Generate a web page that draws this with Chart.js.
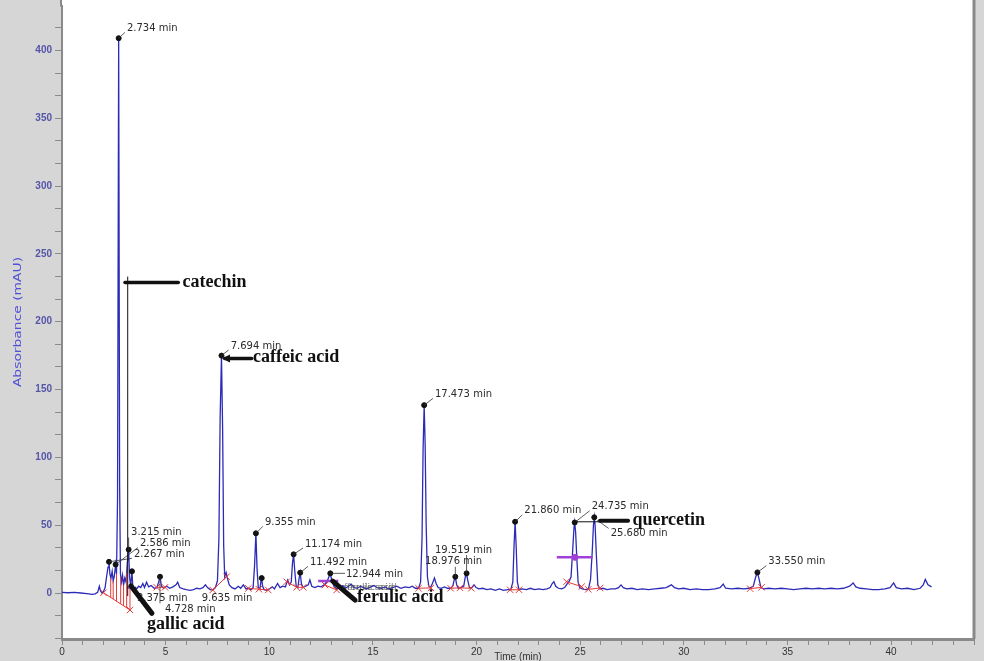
<!DOCTYPE html>
<html>
<head>
<meta charset="utf-8">
<script src="https://cdn.jsdelivr.net/npm/chart.js@4.4.0/dist/chart.umd.min.js"></script>
<style>
  html, body { margin: 0; padding: 0; background: #d6d6d6; overflow: hidden; }
  #wrap { width: 984px; height: 661px; position: relative; }
</style>
</head>
<body>
<div id="wrap"><canvas id="chrom"></canvas></div>
<script>
// chromatogram trace: [time (min), absorbance (mAU)]
const trace = [
  [0.00, 0.5], [0.30, 0.2], [0.60, 0.4], [0.90, 0.0], [1.20, -0.4], [1.45, -1.0], [1.60, -0.6],
  [1.72, 0.5], [1.80, 5.0], [1.86, 1.5], [1.93, 0.0], [2.00, 1.0], [2.08, 4.0], [2.15, 12.0],
  [2.22, 19.0], [2.267, 23.0], [2.31, 14.0], [2.36, 11.0], [2.42, 16.0], [2.47, 9.0], [2.52, 12.0],
  [2.586, 21.0], [2.63, 14.0], [2.68, 70.0], [2.734, 409.0], [2.78, 80.0], [2.82, 14.0], [2.87, 8.0],
  [2.92, 13.0], [2.97, 6.0], [3.03, 11.0], [3.09, 8.0], [3.15, 22.0], [3.215, 32.0], [3.26, 12.0],
  [3.31, 5.0], [3.375, 16.0], [3.42, 3.0], [3.48, 1.0], [3.55, 4.0], [3.60, 3.0], [3.70, 5.0],
  [3.80, 4.0], [3.90, 7.0], [3.98, 4.0], [4.08, 8.0], [4.18, 4.5], [4.30, 5.5], [4.45, 3.5],
  [4.58, 4.0], [4.66, 8.0], [4.728, 12.0], [4.80, 5.0], [4.90, 3.5], [5.05, 5.0], [5.20, 3.5],
  [5.35, 4.5], [5.50, 6.0], [5.58, 8.0], [5.68, 4.0], [5.85, 3.0], [6.00, 2.5], [6.17, 2.0],
  [6.35, 2.5], [6.50, 3.5], [6.65, 3.0], [6.80, 4.0], [6.92, 6.0], [7.02, 4.0], [7.15, 2.5],
  [7.27, 2.2], [7.40, 4.0], [7.50, 9.0], [7.57, 40.0], [7.63, 130.0], [7.694, 175.0], [7.75, 120.0],
  [7.80, 35.0], [7.85, 12.0], [7.92, 15.0], [7.98, 11.0], [8.07, 6.0], [8.20, 4.0], [8.35, 3.0],
  [8.50, 5.0], [8.62, 3.5], [8.75, 6.0], [8.88, 3.0], [9.00, 3.5], [9.12, 2.5], [9.22, 4.0],
  [9.29, 20.0], [9.355, 44.0], [9.41, 18.0], [9.47, 4.0], [9.55, 3.0], [9.60, 9.0], [9.635, 11.0],
  [9.68, 5.0], [9.75, 2.5], [9.88, 2.0], [10.00, 3.0], [10.15, 4.5], [10.25, 3.0], [10.40, 7.0],
  [10.52, 4.0], [10.65, 5.0], [10.78, 4.5], [10.88, 9.5], [10.98, 6.0], [11.06, 8.0], [11.12, 22.0],
  [11.174, 28.5], [11.23, 16.0], [11.30, 5.0], [11.38, 4.0], [11.44, 11.0], [11.492, 15.0],
  [11.55, 7.0], [11.62, 4.0], [11.75, 5.0], [11.88, 6.0], [11.96, 9.6], [12.05, 5.0], [12.20, 4.0],
  [12.35, 5.0], [12.50, 4.5], [12.65, 6.0], [12.80, 9.0], [12.88, 12.0], [12.944, 14.5],
  [13.02, 9.0], [13.12, 5.0], [13.25, 3.0], [13.40, 4.0], [13.55, 5.5], [13.68, 3.5], [13.82, 5.0],
  [13.95, 6.5], [14.10, 4.0], [14.25, 3.5], [14.40, 5.0], [14.55, 4.0], [14.70, 3.0], [14.90, 4.5],
  [15.05, 5.5], [15.20, 4.0], [15.40, 3.5], [15.60, 4.5], [15.75, 3.0], [15.95, 4.0], [16.15, 5.0],
  [16.35, 3.5], [16.55, 4.5], [16.75, 4.0], [16.90, 5.0], [17.05, 3.5], [17.20, 3.5], [17.30, 8.0],
  [17.37, 40.0], [17.42, 105.0], [17.473, 138.5], [17.52, 110.0], [17.57, 50.0], [17.63, 12.0],
  [17.70, 5.0], [17.78, 4.0], [17.87, 7.0], [17.97, 11.0], [18.05, 7.0], [18.15, 4.0], [18.30, 3.5],
  [18.45, 4.5], [18.60, 3.5], [18.75, 3.5], [18.85, 5.0], [18.93, 10.0], [18.976, 12.0],
  [19.04, 6.0], [19.12, 3.5], [19.25, 4.0], [19.38, 5.0], [19.46, 12.0], [19.519, 14.5],
  [19.58, 9.0], [19.66, 4.0], [19.75, 3.5], [19.88, 6.0], [19.98, 4.0], [20.10, 3.0], [20.30, 3.5],
  [20.50, 2.5], [20.70, 3.0], [20.90, 2.0], [21.10, 3.0], [21.30, 2.0], [21.50, 2.5], [21.65, 2.5],
  [21.75, 8.0], [21.81, 35.0], [21.86, 52.5], [21.91, 35.0], [21.97, 8.0], [22.05, 2.5],
  [22.20, 3.0], [22.40, 2.5], [22.60, 3.5], [22.80, 2.5], [23.00, 3.0], [23.20, 2.5], [23.40, 3.0],
  [23.55, 4.0], [23.65, 7.0], [23.73, 8.3], [23.82, 5.0], [23.95, 3.5], [24.10, 3.0], [24.25, 4.0],
  [24.38, 7.0], [24.48, 9.0], [24.56, 12.0], [24.64, 32.0], [24.70, 48.0], [24.735, 52.0],
  [24.78, 45.0], [24.84, 25.0], [24.90, 8.0], [24.98, 4.0], [25.10, 3.0], [25.25, 2.5], [25.40, 3.0],
  [25.50, 10.0], [25.58, 30.0], [25.64, 50.0], [25.68, 55.8], [25.72, 50.0], [25.78, 28.0],
  [25.85, 6.0], [25.95, 3.0], [26.10, 3.5], [26.30, 2.5], [26.50, 3.0], [26.70, 3.0], [26.85, 4.0],
  [26.97, 6.0], [27.08, 4.0], [27.25, 3.0], [27.50, 3.5], [27.75, 2.5], [28.00, 3.0], [28.30, 2.5],
  [28.60, 3.0], [28.90, 3.5], [29.15, 4.0], [29.40, 6.0], [29.55, 4.0], [29.75, 3.0], [30.00, 3.5],
  [30.30, 2.5], [30.60, 3.0], [30.90, 2.5], [31.20, 2.5], [31.50, 3.0], [31.75, 4.0], [31.90, 6.6],
  [32.02, 3.5], [32.30, 3.0], [32.60, 3.5], [32.90, 3.0], [33.15, 3.5], [33.35, 5.0], [33.47, 12.0],
  [33.55, 15.2], [33.62, 11.0], [33.72, 4.0], [33.85, 3.0], [34.10, 3.5], [34.40, 3.0], [34.70, 3.5],
  [35.00, 3.0], [35.30, 2.5], [35.60, 3.0], [35.90, 3.5], [36.20, 3.0], [36.50, 3.5], [36.80, 3.0],
  [37.10, 3.5], [37.40, 3.0], [37.70, 3.5], [38.00, 5.0], [38.17, 7.4], [38.30, 4.5], [38.50, 3.5],
  [38.80, 3.0], [39.10, 2.5], [39.40, 2.5], [39.70, 3.0], [39.95, 4.0], [40.12, 7.5], [40.25, 4.0],
  [40.50, 3.0], [40.80, 3.5], [41.10, 2.5], [41.40, 3.5], [41.55, 6.0], [41.65, 10.0], [41.78, 6.0],
  [41.95, 4.5]
];

// integrated peaks
const peakTimes = [2.267, 2.586, 2.734, 3.215, 3.375, 4.728, 7.694, 9.355, 9.635, 11.174, 11.492,
  12.944, 17.473, 18.976, 19.519, 21.860, 24.735, 25.680, 33.550];
const peakHeights = [23, 21, 409, 32, 16, 12, 175, 44, 11, 28.5, 15, 14.5, 138.5, 12, 14.5, 52.5,
  52, 55.8, 15.2];

// red integration baselines and drop lines
const baselines = [
  [[2.0, 0.2], [3.28, -12.5]],
  [[4.57, 4.2], [4.97, 4.2]],
  [[7.27, 2.2], [7.94, 12]],
  [[8.99, 3.4], [9.5, 2.8], [9.95, 2.2]],
  [[10.84, 8.3], [11.32, 4.2], [11.64, 4.2]],
  [[12.69, 5.9], [13.25, 2.2]],
  [[17.2, 3.5], [17.8, 3.8]],
  [[18.75, 3.5], [19.2, 3.8], [19.75, 3.5]],
  [[21.62, 2.4], [22.05, 2.4]],
  [[24.34, 8.3], [25.07, 4.7]],
  [[25.39, 2.7], [25.96, 3.7]],
  [[33.2, 3.2], [33.75, 4.2]]
];
const dropLines = [
  [[2.35, -3.3], [2.35, 11]], [[2.47, -4.5], [2.47, 9]], [[2.63, -6.1], [2.63, 14]],
  [[2.83, -8.1], [2.83, 12]], [[2.97, -9.5], [2.97, 6]], [[3.12, -11], [3.12, 15]],
  [[3.28, -12.5], [3.28, 6]]
];
// magenta marks
const purpleBars = [
  [[3.15, 4], [3.4, 4]],
  [[12.36, 8.8], [13.33, 8.8]],
  [[23.87, 26.3], [25.6, 26.3]]
];

const compoundNames = ["catechin", "caffeic acid", "gallic acid", "ferulic acid", "quercetin"];
const yTickLabels = [0, 50, 100, 150, 200, 250, 300, 350, 400];
const xTickLabels = [0, 5, 10, 15, 20, 25, 30, 35, 40];

// label placement (pixel offsets from the apex dot) and leader kind
const peakLabelLayout = [
  [25, -7.5, "diag"], [24.4, -21, "diag"], [8.3, -9.8, "diag"], [2.4, -17, "v"], [5, 27, ""],
  [5, 32.6, "vd"], [9.2, -9.7, "diag"], [9, -11, "diag"], [-60, 20.3, ""], [11.4, -10.3, "diag"],
  [9.8, -10.3, "diag"], [15.7, 0.7, "h"], [10.8, -10.7, "diag"], [-30.3, -15, "v"],
  [-31.6, -23.3, "v"], [9.2, -11, "diag"], [17, -15.7, "diag"], [16.4, 16.1, "diagd"],
  [10.9, -10.7, "diag"]
];
// compound name positions and arrows, in axis units
const compoundLayout = [
  { at: [5.81, 225.4], lines: [[3.04, 228.9, 5.61, 228.9, 3.5], [3.17, 233, 3.17, -2, 1]] },
  { at: [9.21, 170.5], lines: [[7.85, 172.9, 9.15, 172.9, 3.5]], head: [7.72, 172.9] },
  { at: [4.10, -26.2], lines: [[3.33, 5.2, 4.34, -15, 5]] },
  { at: [14.23, -6.6], lines: [[13.06, 8.8, 14.14, -5.2, 5]] },
  { at: [27.52, 50.5], lines: [[25.96, 53.3, 27.31, 53.3, 4], [24.75, 52.5, 25.96, 52.5, 1]] }
];

const pts = arr => arr.map(p => ({ x: p[0], y: p[1] }));

const datasets = [];
datasets.push({
  data: pts(trace), showLine: true, pointRadius: 0, borderColor: "#2b2bb8",
  borderWidth: 1.3, order: 5
});
baselines.forEach(seg => datasets.push({
  data: pts(seg), showLine: true, borderColor: "#e53a3a", borderWidth: 1,
  pointStyle: "crossRot", pointRadius: 4.5, pointBorderColor: "#e53a3a", pointBorderWidth: 1, order: 3
}));
dropLines.forEach(seg => datasets.push({
  data: pts(seg), showLine: true, borderColor: "#e53a3a", borderWidth: 1, pointRadius: 0, order: 4
}));
purpleBars.forEach(seg => datasets.push({
  data: pts(seg), showLine: true, borderColor: "#a23fd6", borderWidth: 2.5, pointRadius: 0, order: 2
}));
datasets.push({
  data: [{ x: 24.75, y: 26.3 }], pointRadius: 3, backgroundColor: "#a23fd6", borderColor: "#a23fd6", order: 2
});
datasets.push({
  data: peakTimes.map((t, i) => ({ x: t, y: peakHeights[i] })),
  pointRadius: 2.5, backgroundColor: "#111", borderColor: "#111", order: 1
});

const decor = {
  id: "decor",
  beforeDraw(chart) {
    const { ctx, chartArea: a } = chart;
    ctx.save();
    ctx.fillStyle = "#d6d6d6";
    ctx.fillRect(0, 0, chart.width, chart.height);
    ctx.fillStyle = "#ffffff";
    ctx.fillRect(a.left, 0, a.right - a.left, a.bottom);
    ctx.restore();
  },
  afterDraw(chart) {
    const { ctx, chartArea: a } = chart;
    const X = v => chart.scales.x.getPixelForValue(v);
    const Y = v => chart.scales.y.getPixelForValue(v);
    ctx.save();
    // frame
    ctx.strokeStyle = "#8a8a8a";
    ctx.lineWidth = 3;
    ctx.beginPath();
    ctx.moveTo(a.right, 0);
    ctx.lineTo(a.right, a.bottom);
    ctx.stroke();
    ctx.lineWidth = 2;
    ctx.beginPath();
    ctx.moveTo(a.left - 1, 0);
    ctx.lineTo(a.left - 1, a.top + 1);
    ctx.stroke();

    // axis titles
    ctx.fillStyle = "#333";
    ctx.font = "10px 'Liberation Sans', Arial, sans-serif";
    ctx.textAlign = "center";
    ctx.textBaseline = "top";
    ctx.fillText("Time (min)", (a.left + a.right) / 2, 652);
    ctx.translate(18, 322);
    ctx.rotate(-Math.PI / 2);
    ctx.scale(1.4, 1);
    ctx.fillStyle = "#5050d8";
    ctx.font = "11px 'Liberation Sans Narrow', 'DejaVu Sans Condensed', sans-serif";
    ctx.textBaseline = "middle";
    ctx.fillText("Absorbance (mAU)", 0, 0);
    ctx.restore();

    // retention time labels
    ctx.save();
    ctx.font = "10px 'DejaVu Sans', sans-serif";
    ctx.textAlign = "left";
    ctx.textBaseline = "middle";
    peakTimes.forEach((t, i) => {
      const [dx, dy, kind] = peakLabelLayout[i];
      const x0 = X(t), y0 = Y(peakHeights[i]);
      const lx = x0 + dx, ly = y0 + dy;
      ctx.strokeStyle = "#333";
      ctx.lineWidth = 0.8;
      ctx.beginPath();
      if (kind === "diag") { ctx.moveTo(x0, y0); ctx.lineTo(lx - 2, ly + 4); }
      if (kind === "diagd") { ctx.moveTo(x0 + 3, y0 + 3); ctx.lineTo(lx - 2, ly - 5); }
      if (kind === "v") { ctx.moveTo(x0, y0); ctx.lineTo(x0, ly + 5); }
      if (kind === "vd") { ctx.moveTo(x0, y0); ctx.lineTo(x0, ly - 6); }
      if (kind === "h") { ctx.moveTo(x0, y0); ctx.lineTo(lx - 1, y0); }
      ctx.stroke();
      ctx.fillStyle = "#2a2a2a";
      ctx.fillText(t.toFixed(3) + " min", lx, ly);
    });
    // faint doubled "ferulic acid" from the integrator
    ctx.font = "9px 'DejaVu Sans', sans-serif";
    ctx.fillStyle = "rgba(70,70,70,0.7)";
    ctx.fillText("ferulic acid", X(13.6), Y(3.6));
    ctx.fillText("ferulic acid", X(13.75), Y(3.6));
    ctx.restore();

    // compound names with arrows
    ctx.save();
    ctx.fillStyle = "#111";
    ctx.strokeStyle = "#111";
    ctx.lineCap = "round";
    compoundLayout.forEach((c, i) => {
      c.lines.forEach(l => {
        ctx.lineWidth = l[4];
        ctx.beginPath();
        ctx.moveTo(X(l[0]), Y(l[1]));
        ctx.lineTo(X(l[2]), Y(l[3]));
        ctx.stroke();
      });
      if (c.head) {
        const hx = X(c.head[0]), hy = Y(c.head[1]);
        ctx.beginPath();
        ctx.moveTo(hx, hy);
        ctx.lineTo(hx + 8, hy - 4);
        ctx.lineTo(hx + 8, hy + 4);
        ctx.closePath();
        ctx.fill();
      }
      ctx.font = "bold 18px 'Liberation Serif', 'Times New Roman', serif";
      ctx.textAlign = "left";
      ctx.textBaseline = "alphabetic";
      ctx.fillText(compoundNames[i], X(c.at[0]), Y(c.at[1]));
    });
    ctx.restore();
  }
};

new Chart(document.getElementById("chrom"), {
  type: "scatter",
  data: { datasets },
  plugins: [decor],
  options: {
    responsive: true,
    maintainAspectRatio: false,
    animation: false,
    layout: { padding: { top: 0, right: 10, bottom: 0, left: 0 } },
    plugins: { legend: { display: false }, tooltip: { enabled: false } },
    scales: {
      x: {
        type: "linear", min: 0, max: 44,
        afterFit: s => { s.height = 22; s.paddingRight = 0; },
        afterBuildTicks: s => {
          const ticks = [];
          for (let v = 0; v <= 44; v++) ticks.push({ value: v });
          s.ticks = ticks;
        },
        ticks: {
          autoSkip: false, maxRotation: 0, padding: 1, color: "#333",
          font: { size: 10, family: "'Liberation Sans', Arial, sans-serif" },
          callback: v => (xTickLabels.includes(v) ? String(v) : "")
        },
        grid: { drawOnChartArea: false, tickLength: 6, color: "#8a8a8a" },
        border: { color: "#8a8a8a", width: 3 }
      },
      y: {
        type: "linear", min: -33.9, max: 433.1,
        afterFit: s => { s.width = 62; s.paddingTop = 0; s.paddingBottom = 0; },
        afterBuildTicks: s => {
          const ticks = [{ value: -100 / 3 }, { value: -50 / 3 }];
          yTickLabels.forEach(v => {
            ticks.push({ value: v }, { value: v + 50 / 3 }, { value: v + 100 / 3 });
          });
          s.ticks = ticks.filter(t => t.value >= -33.9 && t.value <= 433.1);
        },
        ticks: {
          autoSkip: false, padding: 3, color: "#5454a8",
          font: { size: 10, weight: "bold", family: "'Liberation Sans', Arial, sans-serif" },
          callback: v => (yTickLabels.includes(v) ? String(v) : "")
        },
        grid: { drawOnChartArea: false, tickLength: 7, color: "#8a8a8a" },
        border: { color: "#8a8a8a", width: 2 }
      }
    }
  }
});
</script>
</body>
</html>
